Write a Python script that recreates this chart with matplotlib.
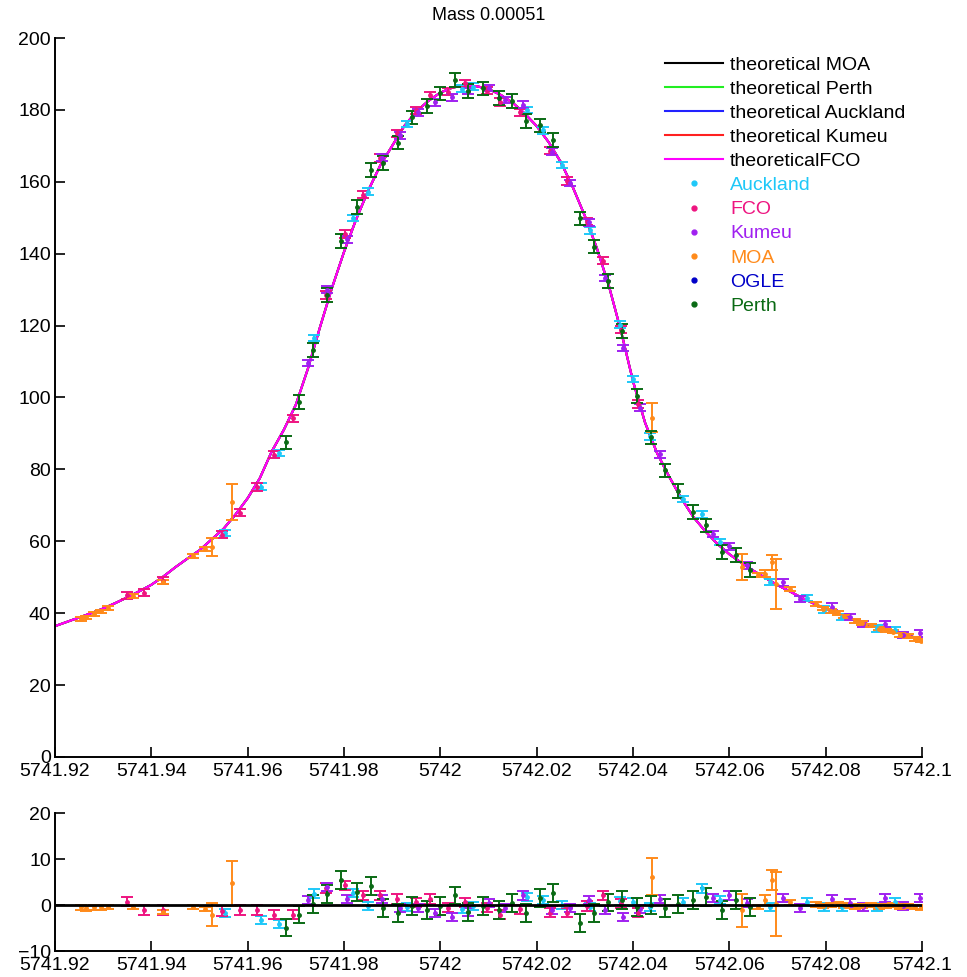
import matplotlib
matplotlib.use('Agg')
import matplotlib.pyplot as plt
from matplotlib.lines import Line2D
from matplotlib.ticker import FixedLocator, FuncFormatter

plt.rcParams['font.family'] = ['Liberation Sans', 'DejaVu Sans']

# model light curve (same fit for every site)
model_t = [5741.9200, 5741.9225, 5741.9250, 5741.9275, 5741.9300, 5741.9325, 5741.9350,
           5741.9375, 5741.9400, 5741.9425, 5741.9450, 5741.9475, 5741.9500, 5741.9525,
           5741.9550, 5741.9575, 5741.9600, 5741.9625, 5741.9650, 5741.9675, 5741.9700,
           5741.9725, 5741.9750, 5741.9775, 5741.9800, 5741.9825, 5741.9850, 5741.9875,
           5741.9900, 5741.9925, 5741.9950, 5741.9975, 5742.0000, 5742.0025, 5742.0050,
           5742.0075, 5742.0100, 5742.0125, 5742.0150, 5742.0175, 5742.0200, 5742.0225,
           5742.0250, 5742.0275, 5742.0300, 5742.0325, 5742.0350, 5742.0375, 5742.0400,
           5742.0425, 5742.0450, 5742.0475, 5742.0500, 5742.0525, 5742.0550, 5742.0575,
           5742.0600, 5742.0625, 5742.0650, 5742.0675, 5742.0700, 5742.0725, 5742.0750,
           5742.0775, 5742.0800, 5742.0825, 5742.0850, 5742.0875, 5742.0900, 5742.0925,
           5742.0950, 5742.0975, 5742.1000]
model_f = [36.4, 37.6, 38.8, 40.0, 41.3, 42.8, 44.4,
           46.1, 47.9, 50.2, 52.8, 55.2, 57.5, 60.5,
           63.5, 67.5, 72.0, 77.5, 85.0, 91.0, 98.0,
           108.0, 119.5, 130.5, 140.5, 149.5, 157.5, 164.5,
           170.0, 175.5, 179.5, 182.5, 184.8, 186.2, 186.8,
           186.6, 185.8, 184.2, 182.0, 179.0, 175.5, 171.0,
           165.5, 158.5, 150.5, 141.5, 131.0, 118.5, 104.5,
           93.0, 84.5, 78.0, 72.0, 66.8, 62.8, 59.3,
           56.4, 54.0, 51.8, 49.8, 47.8, 46.1, 44.3,
           42.7, 41.2, 39.8, 38.6, 37.5, 36.4, 35.4,
           34.5, 33.6, 32.8]

# Auckland
auck_t = [5741.9553, 5741.9628, 5741.9665, 5741.9738, 5741.9819, 5741.9850, 5741.9931,
          5742.0045, 5742.0068, 5742.0180, 5742.0213, 5742.0253, 5742.0310, 5742.0373,
          5742.0400, 5742.0435, 5742.0504, 5742.0543, 5742.0580, 5742.0684, 5742.0761,
          5742.0797, 5742.0834, 5742.0906, 5742.0944]
auck_f = [62.3, 75.2, 84.5, 116.5, 149.9, 157.3, 176.1,
          185.9, 186.5, 180.0, 174.3, 164.7, 146.5, 120.3,
          105.1, 89.2, 71.8, 67.5, 59.8, 48.7, 44.2,
          41.0, 39.0, 35.8, 35.3]
auck_res = [-1.7, -3.2, -4.1, 2.5, 2.6, -0.2, -0.4,
            -0.8, -0.2, 1.7, 1.1, 0.0, -0.4, 0.8,
            0.6, -0.4, 0.6, 3.6, 1.1, -0.4, 0.6,
            -0.4, -0.4, -0.4, 0.6]
auck_err = [0.9] * 25

# FCO
fco_t = [5741.9349, 5741.9385, 5741.9424, 5741.9547, 5741.9584, 5741.9619, 5741.9655,
         5741.9694, 5741.9762, 5741.9802, 5741.9840, 5741.9875, 5741.9910, 5741.9949,
         5741.9978, 5742.0016, 5742.0051, 5742.0097, 5742.0124, 5742.0165, 5742.0228,
         5742.0263, 5742.0304, 5742.0338, 5742.0375, 5742.0410]
fco_f = [45.0, 45.7, 49.0, 61.8, 68.0, 75.1, 84.1,
         94.2, 128.5, 145.5, 156.4, 166.6, 173.5, 179.9,
         184.1, 185.1, 187.4, 185.3, 182.2, 179.3, 168.6,
         160.2, 148.9, 138.1, 118.9, 98.2]
fco_res = [0.7, -1.1, -1.1, -1.3, -1.1, -1.1, -2.1,
           -2.1, 3.7, 4.3, 2.1, 2.1, 1.3, 0.6,
           1.3, -0.6, 0.6, -0.6, -2.1, -0.9, -1.7,
           -1.7, -0.2, 2.1, 0.4, -1.7]
fco_err = [1.0] * 26

# Kumeu
kum_t = [5741.9726, 5741.9765, 5741.9806, 5741.9879, 5741.9916, 5741.9953, 5741.9989,
         5742.0024, 5742.0057, 5742.0101, 5742.0134, 5742.0172, 5742.0232, 5742.0269,
         5742.0308, 5742.0342, 5742.0379, 5742.0414, 5742.0456, 5742.0566, 5742.0599,
         5742.0637, 5742.0711, 5742.0747, 5742.0813, 5742.0850, 5742.0877, 5742.0923,
         5742.0960, 5742.0996]
kum_f = [109.6, 130.0, 144.0, 166.7, 172.9, 179.3, 182.1,
         183.5, 185.2, 186.1, 182.8, 181.5, 168.4, 159.6,
         148.7, 133.3, 113.7, 97.2, 84.2, 62.1, 58.6,
         53.3, 48.6, 43.9, 41.8, 39.0, 37.0, 37.0,
         33.9, 34.4]
kum_res = [1.1, 3.9, 1.3, 1.3, -0.6, -0.6, -1.7,
           -2.6, -1.5, 0.4, -0.6, 2.1, -1.1, -0.6,
           1.1, -1.1, -2.6, -0.9, 1.3, 1.5, 2.1,
           0.4, 1.5, -0.6, 1.3, 0.4, -0.4, 1.5,
           -0.2, 1.5]
kum_err = [0.9] * 30

# MOA
moa_t = [5741.9253, 5741.9265, 5741.9280, 5741.9295, 5741.9310, 5741.9362, 5741.9424,
         5741.9487, 5741.9511, 5741.9526, 5741.9567, 5742.0439, 5742.0626, 5742.0660,
         5742.0674, 5742.0689, 5742.0697, 5742.0726, 5742.0780, 5742.0795, 5742.0810,
         5742.0825, 5742.0838, 5742.0860, 5742.0875, 5742.0895, 5742.0910, 5742.0925,
         5742.0940, 5742.0955, 5742.0970, 5742.0985, 5742.0998]
moa_f = [38.4, 38.8, 39.8, 40.5, 41.5, 44.8, 48.6,
         55.9, 57.9, 58.5, 70.9, 94.4, 52.8, 50.6,
         51.0, 54.1, 48.2, 46.7, 42.5, 41.3, 40.6,
         40.0, 39.1, 37.9, 37.3, 36.6, 35.7, 35.2,
         34.9, 34.0, 33.6, 32.9, 32.4]
moa_res = [-0.5, -0.7, -0.5, -0.5, -0.4, -0.4, -1.5,
           -0.4, -0.9, -2.1, 4.7, 6.2, -1.1, -0.4,
           1.1, 5.4, 0.2, 0.6, 0.1, -0.2, 0.0,
           0.2, -0.1, -0.3, -0.2, 0.0, -0.3, -0.2,
           0.0, -0.3, -0.2, -0.4, -0.5]
moa_err = [0.5, 0.5, 0.5, 0.5, 0.5, 0.5, 0.5,
           0.5, 0.5, 2.5, 4.9, 4.0, 3.6, 0.5,
           1.0, 2.2, 7.0, 0.6, 0.5, 0.5, 0.5,
           0.5, 0.5, 0.5, 0.5, 0.5, 0.5, 0.5,
           0.5, 0.5, 0.5, 0.5, 0.5]

# OGLE (nothing inside this window)
ogle_t = []
ogle_f = []
ogle_res = []
ogle_err = []

# Perth
perth_t = [5741.9680, 5741.9707, 5741.9736, 5741.9765, 5741.9794, 5741.9827, 5741.9856,
           5741.9881, 5741.9912, 5741.9941, 5741.9972, 5741.9999, 5742.0030, 5742.0057,
           5742.0089, 5742.0122, 5742.0149, 5742.0178, 5742.0207, 5742.0234, 5742.0290,
           5742.0319, 5742.0348, 5742.0377, 5742.0408, 5742.0437, 5742.0466, 5742.0493,
           5742.0524, 5742.0551, 5742.0585, 5742.0614, 5742.0643]
perth_f = [87.5, 98.7, 113.3, 128.5, 143.5, 152.9, 163.3,
           165.2, 170.9, 177.9, 181.0, 184.6, 188.4, 185.2,
           186.0, 183.3, 182.5, 176.9, 175.7, 171.6, 149.8,
           142.0, 132.4, 118.5, 100.4, 88.9, 79.7, 73.9,
           68.1, 64.4, 57.0, 56.2, 52.0]
perth_res = [-4.9, -2.1, 0.2, 2.4, 5.4, 2.8, 4.1,
             -0.6, -1.7, -0.2, -1.1, -0.2, 2.1, -1.5,
             -0.2, -1.1, 0.4, -1.7, 1.5, 2.6, -3.9,
             -1.7, 0.6, 1.1, -0.4, 0.0, -0.6, 0.2,
             1.1, 1.7, -1.1, 1.1, -0.4]
perth_err = [1.9] * 33

theory_labels = ['theoretical MOA', 'theoretical Perth', 'theoretical Auckland',
                 'theoretical Kumeu', 'theoreticalFCO']
theory_colors = ['#000000', '#22ee22', '#2222ff', '#ff2020', '#ff00ff']

sites = ['Auckland', 'FCO', 'Kumeu', 'MOA', 'OGLE', 'Perth']
site_colors = ['#1ec8f8', '#ee1480', '#a020f0', '#ff8a1a', '#0000c8', '#0a6a14']
site_data = [
    (auck_t, auck_f, auck_err, auck_res),
    (fco_t, fco_f, fco_err, fco_res),
    (kum_t, kum_f, kum_err, kum_res),
    (moa_t, moa_f, moa_err, moa_res),
    (ogle_t, ogle_f, ogle_err, ogle_res),
    (perth_t, perth_f, perth_err, perth_res),
]

x_ticks = [5741.92, 5741.94, 5741.96, 5741.98, 5742.0, 5742.02, 5742.04, 5742.06, 5742.08, 5742.1]


def style_axes(ax):
    for side in ['top', 'right']:
        ax.spines[side].set_visible(False)
    for side in ['left', 'bottom']:
        ax.spines[side].set_linewidth(1.4)
    ax.tick_params(direction='in', length=7, width=1.2, labelsize=14)
    ax.tick_params(axis='x', pad=4)
    ax.tick_params(axis='y', pad=3)
    ax.xaxis.set_major_locator(FixedLocator(x_ticks))
    ax.xaxis.set_major_formatter(FuncFormatter(lambda v, p: '{:.6g}'.format(v)))
    ax.set_xlim(5741.92, 5742.1)


fig = plt.figure(figsize=(9.67, 9.77), dpi=100)
ax = fig.add_axes([0.0569, 0.2252, 0.8966, 0.7359])
axr = fig.add_axes([0.0569, 0.0266, 0.8966, 0.1412])

handles = []
for label, color in zip(theory_labels, theory_colors):
    ln, = ax.plot(model_t, model_f, color=color, lw=1.5, label=label)
    handles.append(ln)

for name, color, (t, f, err, res) in zip(sites, site_colors, site_data):
    if len(t) > 0:
        ax.errorbar(t, f, yerr=err, fmt='.', color=color, ms=5, elinewidth=1.4,
                    capsize=4, capthick=1.4)
        axr.errorbar(t, res, yerr=err, fmt='.', color=color, ms=5, elinewidth=1.4,
                     capsize=4, capthick=1.4)
    handles.append(Line2D([], [], ls='none', marker='.', ms=7, color=color, label=name))

axr.axhline(0, color='black', lw=2, zorder=5)

style_axes(ax)
ax.set_ylim(0, 200)
ax.yaxis.set_major_locator(FixedLocator(range(0, 201, 20)))

style_axes(axr)
axr.set_ylim(-10, 20)
axr.yaxis.set_major_locator(FixedLocator([-10, 0, 10, 20]))

leg = ax.legend(handles=handles, loc='upper left', bbox_to_anchor=(0.6877, 0.9427),
                bbox_transform=fig.transFigure, frameon=False, fontsize=14,
                handlelength=3.0, handletextpad=0.35, labelspacing=0.335,
                borderpad=0, borderaxespad=0)
for txt, h in zip(leg.get_texts(), handles):
    if h.get_linestyle() in ('None', 'none'):
        txt.set_color(h.get_color())

fig.text(0.5052, 1 - 15 / 977, 'Mass 0.00051', ha='center', va='center', fontsize=13)

fig.savefig('out.png', dpi=100)
